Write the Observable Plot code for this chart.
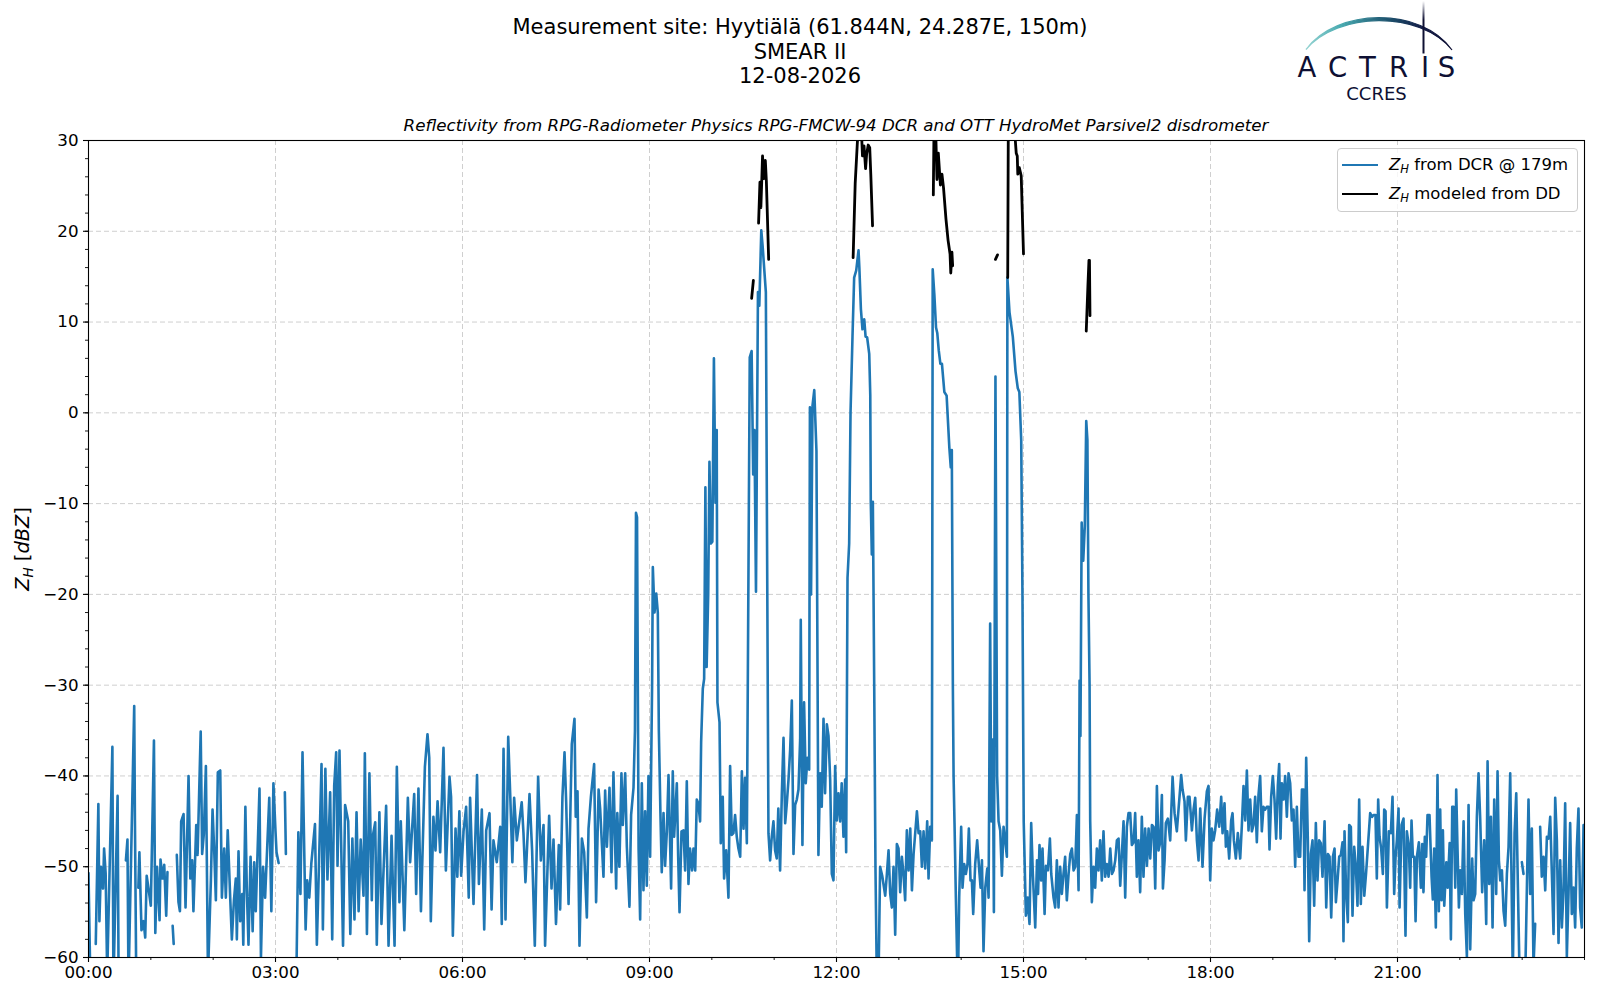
<!DOCTYPE html>
<html><head><meta charset="utf-8">
<script src="https://cdn.jsdelivr.net/npm/d3@7"></script>
<script src="https://cdn.jsdelivr.net/npm/@observablehq/plot@0.6"></script>
<style>
body{margin:0;background:#fff;font-family:'DejaVu Sans',sans-serif;color:#000;}
#wrap{position:relative;width:1600px;height:1000px;overflow:hidden;}
#chart{position:absolute;left:0;top:0;}
.tline{position:absolute;left:0;width:1600px;text-align:center;font-size:21px;line-height:24.5px;height:24.5px;white-space:nowrap;}
.subtitle{position:absolute;left:88px;width:1496px;top:115px;text-align:center;font-size:16.7px;font-style:italic;line-height:20px;}
.ylabel{position:absolute;left:23px;top:549px;transform:translate(-50%,-50%) rotate(-90deg);font-size:19.4px;white-space:nowrap;line-height:24px;}
sub{font-size:0.7em;vertical-align:-0.3em;line-height:0;}
.legend{position:absolute;left:1337px;top:148px;width:241px;height:64px;border:1px solid #cccccc;border-radius:4px;background:rgba(255,255,255,0.8);box-sizing:border-box;}
.lrow{position:absolute;left:0;height:24px;width:240px;}
.lrow .sw{position:absolute;left:4px;top:11px;width:36px;height:0;border-top:2.4px solid;}
.lrow .tx{position:absolute;left:51px;top:0;font-size:16.5px;line-height:24px;white-space:nowrap;}
#logo{position:absolute;left:1290px;top:0;}
</style></head>
<body><div id="wrap">
<div id="chart"></div>
<div class="tline" style="top:15.3px">Measurement site: Hyytiälä (61.844N, 24.287E, 150m)</div>
<div class="tline" style="top:39.8px">SMEAR II</div>
<div class="tline" style="top:64.3px">12-08-2026</div>
<div class="subtitle">Reflectivity from RPG-Radiometer Physics RPG-FMCW-94 DCR and OTT HydroMet Parsivel2 disdrometer</div>
<div class="ylabel"><i>Z</i><sub><i>H</i></sub> [<i>dBZ</i>]</div>
<div class="legend">
  <div class="lrow" style="top:4px"><div class="sw" style="border-color:#1f77b4"></div><div class="tx"><i>Z</i><sub><i>H</i></sub> from DCR @ 179m</div></div>
  <div class="lrow" style="top:33px"><div class="sw" style="border-color:#000"></div><div class="tx"><i>Z</i><sub><i>H</i></sub> modeled from DD</div></div>
</div>
<svg id="logo" width="180" height="110" viewBox="1290 0 180 110">
  <defs>
    <linearGradient id="arcg" gradientUnits="userSpaceOnUse" x1="1304" y1="0" x2="1454" y2="0">
      <stop offset="0" stop-color="#9ad6d4"/>
      <stop offset="0.25" stop-color="#48aab0"/>
      <stop offset="0.55" stop-color="#1e5570"/>
      <stop offset="0.8" stop-color="#121a45"/>
      <stop offset="1" stop-color="#0e1033"/>
    </linearGradient>
    <linearGradient id="vg" gradientUnits="userSpaceOnUse" x1="0" y1="1" x2="0" y2="54">
      <stop offset="0" stop-color="#0e1033" stop-opacity="0"/>
      <stop offset="0.35" stop-color="#0e1033" stop-opacity="1"/>
      <stop offset="1" stop-color="#0e1033" stop-opacity="1"/>
    </linearGradient>
  </defs>
  <path d="M1306,49.5 C1336,8 1421,6 1452,50 C1420,10 1337,12 1306,49.5 Z" fill="url(#arcg)" stroke="url(#arcg)" stroke-width="1.2"/>
  <line x1="1423.5" y1="1" x2="1423.5" y2="53.5" stroke="url(#vg)" stroke-width="2"/>
  <g fill="#0e1033" font-family="'DejaVu Sans',sans-serif" font-size="27.5" text-anchor="middle">
    <text x="1307" y="77">A</text><text x="1337.5" y="77">C</text><text x="1367.5" y="77">T</text>
    <text x="1398.5" y="77">R</text><text x="1425" y="77">I</text><text x="1446.5" y="77">S</text>
  </g>
  <text x="1376.5" y="99.5" fill="#0e1033" font-family="'DejaVu Sans',sans-serif" font-size="18" text-anchor="middle">CCRES</text>
</svg>
</div>
<script>
// ---- data: time in minutes after 00:00, value in dBZ (null = missing) ----
const dcr00 = [[0,-50.7],[2,-64],[5,null],[7,-58.5],[9.5,-43.1],[10.5,-56],[12,-50],[14,-52.4],[15,-48],[16.5,-50.7],[18,-62],[23,-36.8],[24,-63],[28,-42.2],[29,-63],[33,null],[36,-49.3],[37.5,-47],[38.5,-63],[44,-32.3],[44.7,-45],[46,-63],[47,null],[48,-52.3],[49,-48.4],[51,-57],[53,-56],[54.6,-57.8],[56,-51],[58,-52.6],[60,-54.3],[63,-36.1],[64.3,-57.3],[66,-50],[68.4,-55.9],[69.3,-49.2],[71.3,-51.3],[72.9,-49.8],[74.8,-55.4],[76,-50.6],[78,null],[81,-56.5],[82,-58.5],[83,null],[85,-48.7],[86.6,-53.9],[88,-54.9],[89.2,-45],[91.5,-44.2],[93.4,-54.5],[96.3,-40],[98,-51.3],[99.8,-49.3],[101,-54.9],[103.7,-45.4],[105,-48.7],[108,-35.1],[109.4,-48.6],[111,-46.4],[113,-38.9],[115,-62],[117.8,-51.5],[119.4,-43.7],[121,-48.2],[122.6,-53.7],[124.5,-39.6],[126.8,-39.4],[128.4,-53.4],[130.6,-48],[132.2,-53.4],[134,-46],[136.4,-53.4],[138,-58],[140,-53.7],[141.8,-51.3],[142.8,-58],[144.4,-48.3],[146,-56],[148,-53],[149,-58.6],[151,-43.4],[152.4,-52.6],[154,-58.6],[156,-48.9],[158,-57.1],[159.5,-49.5],[161,-54.9],[164.6,-41.4],[166,-60],[168,-50],[170,-53.4],[174,-42.4],[176,-54.9],[178,-40.8]];
const dcr03 = [[180,-46.1],[181,-48.4],[183,-49.6],[185,null],[189,-41.8],[190,-48.6],[192,null],[200,-63],[202,-46.2],[204,-53],[206,-37.4],[209,-56.9],[210.5,-51.5],[212.5,-53.4],[214.5,-49.6],[218,-45.3],[219.8,-58.6],[221.8,-50],[224.3,-38.7],[225.6,-56.9],[228,-39.2],[230,-51.4],[232.6,-41.8],[234.6,-58],[236.5,-41.1],[238.4,-37.4],[239.7,-49.9],[241.6,-37.2],[245,-58.7],[247,-43.2],[250,-45],[252,-57.4],[254,-46.9],[256,-55.8],[258,-44],[260,-54.9],[262,-47],[264.7,-53.2],[266,-37.5],[268,-57.4],[270.4,-39.7],[272.7,-53.7],[274,-46.4],[276,-45.1],[277.5,-58.6],[280,-44],[282,-56.3],[284,-50.4],[286.5,-43.3],[288.8,-58.7],[291.7,-46.6],[294.6,-58.7],[296.8,-39],[299.3,-53.9],[300.6,-45],[304,-57],[307.4,-42.4],[309.6,-49.5],[313.5,-42],[315.4,-53],[317.6,-41.4],[320,-54.9],[323.8,-39],[326.3,-35.4],[328,-38],[329.5,-56],[332,-44.5],[334,-48.2],[336,-42.8],[338.5,-48.4],[341.7,-36.9],[344,-50.4],[347.5,-40.1],[349,-42.3],[350.7,-57.6],[353.3,-45.8],[355,-51.1],[357,-43.9],[358.7,-51]];
const dcr06 = [[361,-46.1],[363.5,-43.4],[366,-53.4],[367.3,-42.4],[370.6,-54.1],[374,-39.9],[375.8,-51.9],[378.6,-43.7],[380.9,-56.9],[382.8,-46],[386,-44.1],[388,-54.7],[389.8,-47.1],[393,-49.5],[396.3,-45.6],[397.8,-56.3],[399.5,-37],[401.4,-55.8],[404,-35.7],[406,-42.3],[408,-49.5],[409.7,-42.4],[412.3,-47.1],[414.8,-44.9],[417,-42.9],[418.7,-46.3],[420.6,-51.7],[424.5,-42],[427,-48.2],[429.6,-58.7],[432.8,-40.1],[435.4,-49.3],[438,-45.4],[439.5,-58.7],[443.4,-44.4],[445.7,-52.4],[447.6,-47],[450,-56.3],[452.7,-47.6],[454,-54.7],[456.2,-42.3],[458.2,-37.4],[459.8,-42.9],[462.1,-54.1],[464,-43],[465.2,-36.5],[467.8,-33.7],[469,-44.5],[470.7,-41.7],[472.6,-58.7],[474.9,-46.9],[477.1,-48.4],[479.7,-55.6],[481.3,-45.8],[483.6,-42.3],[486.7,-38.7],[488.6,-53.9],[491,-41.5],[492.5,-43.6],[495.7,-51.1],[497.3,-41.6],[499,-47.8],[501.5,-41.3],[503.4,-50.6],[505.3,-39.6],[507.9,-52.4],[509,-44.1],[511,-50],[513,-39.7],[514.3,-45.4],[516.6,-39.7],[518.2,-47.8],[520.7,-54.4],[522.3,-44.3],[524.6,-41.3],[526,-35],[527,-11],[528,-11.5],[529.5,-48],[531,-55.8],[532.6,-40.8],[534.2,-52.6],[535.8,-43.9],[537.4,-52.1],[539,-40]];
const dcr09 = [[540.6,-48.9],[542.5,-30],[543.2,-17],[544.8,-22],[546.5,-19.9],[548,-22],[549,-35],[550.5,-44],[551.8,-50.6],[553.5,-44.1],[555,-49.9],[556.7,-46.1],[558.3,-39.9],[559.9,-47.8],[560.8,-52.4],[562.4,-39.5],[563.7,-46.7],[566.3,-40.8],[567.6,-48.9],[568.9,-55],[570.8,-46.1],[572.7,-46],[574.3,-50.4],[575.9,-40.6],[577.5,-51.9],[579,-48],[581,-50.4],[582.3,-48],[584,-50.4],[585.5,-42.6],[587,-43],[588.7,-45],[589.7,-36.3],[591.3,-30.4],[592.6,-29.3],[593.8,-8.2],[595,-28],[596.5,-20],[597.7,-5.4],[599,-14.4],[600.5,-14.2],[602,6],[603.5,-9.9],[604.7,-1.9],[605.4,-31.9],[607.4,-34.1],[608.6,-47.4],[610.5,-42.3],[611.8,-51.3],[613.8,-48.2],[616,-53.4],[617.6,-38.9],[619.2,-46.5],[620.8,-46.3],[622.4,-44.3],[624,-46.7],[625.6,-48],[627.3,-48.9],[628.9,-39.5],[630.5,-45.8],[632,-40.2],[633.7,-47.4],[636.5,6.1],[638.3,6.8],[639.8,-6.8],[641,-1.9],[642.5,-19.7],[644.4,13.3],[645.7,11.8],[647.6,20.1],[649,18.2],[652,13.3],[654.5,-46.3],[656.1,-49.3],[657.7,-46.7],[659.3,-45],[660.9,-48.2],[662.5,-49.1],[664,-43.6],[665.7,-50.4],[667.4,-41.9],[669,-35.8],[670.6,-45.2],[672.2,-43],[673.8,-40.4],[675.4,-37.1],[677,-31.7],[678.6,-48.6],[680.2,-43.2],[681.8,-42.6],[683.4,-41.5],[685,-36],[685.6,-22.8],[687.2,-47.6],[688.8,-31.9],[690.4,-40.8],[692,-38],[693.7,-39.3],[694.4,0.6],[695.5,-20],[696.9,0.8],[698.6,2.5],[700.7,-4.2],[702.6,-48.7],[704.2,-39.7],[705.8,-43.4],[707.5,-33.7],[709,-41.9],[710.7,-34.3],[712.3,-35.6],[713.9,-40.4],[715.5,-50.8],[717.1,-51.5],[718.7,-38.9]];
const dcr12 = [[720.3,-44.9],[721.9,-41.9],[723.5,-45],[725,-40.8],[726.7,-46.7],[728.3,-40.4],[729.3,-48.4],[730.6,-18.2],[732.2,-14.4],[733.5,0],[735.4,8.4],[737,14.9],[739,15.7],[741.2,17.9],[742,16],[743.5,11.4],[745,9.2],[746.7,10.3],[748,8.4],[749.5,8.3],[751.5,6.5],[752.5,2],[753,-9.8],[754,-15.6],[755,-9.8],[756.3,-30],[757.5,-50],[759,-64],[760.5,-62],[762,-50],[764,-51],[766.9,-53.2],[768.5,-50.8],[770.1,-48.2],[771.7,-53],[773.3,-54.5],[774.9,-50],[776.5,-57.5],[778.1,-47.5],[779.7,-48],[781.3,-52.8],[782.9,-48.9],[784.5,-50.8],[786.1,-53.7],[787.7,-46],[789.4,-50.4],[791,-45.8],[792.6,-52.6],[794.2,-48.6],[797.4,-43.9],[799,-46.3],[800.6,-46.1],[802.2,-50],[803.8,-46.1],[805.4,-50.2],[807.3,-45],[808.6,-51.3],[810.2,-45.6],[811.8,-47.1],[812.6,15.8],[814.2,13],[815.8,9.4],[817,8.8],[818.4,6.9],[820,5.4],[821.5,5.4],[823.8,2.3],[826,1.9],[828.6,-3.8],[830,-6],[831,-4.1],[832,-30],[832.7,-40],[833.6,-45.2],[834.9,-53.4],[836.8,-64],[838.1,-53.4],[840,-45.6],[841.3,-52.3],[842.9,-49.7],[844.5,-50.8],[846.1,-49.7],[847.4,-45.8],[849,-51.5],[850.3,-51.5],[851.6,-55.2],[853.5,-49.7],[855.4,-47.1],[857.4,-50.4],[858.7,-52.3],[860,-49.3],[861.5,-59.3],[863.2,-52.3],[865.1,-50.2],[866.4,-53.4],[867.9,-23.2],[869,-45],[870.5,-36],[871.5,-55],[873,4],[874.6,-40],[876,-45],[877.6,-46],[879.2,-51],[880.8,-45.6],[882.4,-47.1],[884,-48.9],[884.5,14.9],[886.5,11.1],[889.7,8.4],[892.3,4.6],[894.5,2.7],[896,2.3],[897.8,-3],[899,-20]];
const dcr15 = [[900.2,-45],[902.3,-55.4],[904,-53.4],[905.8,-56.3],[907.4,-45.2],[909,-50.8],[911.3,-56.7],[913,-49.3],[914,-53],[915.4,-47.6],[917,-51.5],[918.3,-48],[920.3,-55.2],[921.6,-49.9],[923.5,-50.4],[925.4,-46.9],[926.7,-50.8],[928.9,-53.4],[930.5,-54.5],[932.1,-49.3],[933.7,-54.5],[935.3,-50],[936.9,-53],[938.5,-50.8],[940.1,-48.9],[941.7,-53.7],[943.4,-50.8],[945,-48.6],[946.6,-48],[948.2,-50.4],[949.8,-50],[951.4,-44.3],[953,-52.6],[954,-29.5],[954.8,-35.6],[956,-12.1],[957.5,-16.3],[959,-12.5],[960.4,-0.9],[961.5,-3],[962.5,-20],[963.6,-30],[964.2,-45],[965.8,-53.9],[967.4,-50],[969,-52.3],[970.6,-48],[972.2,-50.4],[973.8,-47.1],[975.4,-51.5],[977,-46.1],[978.6,-51.1],[980.2,-49.7],[981.9,-51.1],[983.5,-48],[985.1,-50.8],[986.7,-50.4],[988.3,-49.3],[989.9,-47.1],[991.5,-46.9],[993.1,-52.1],[994.7,-48.6],[996.3,-45],[997.9,-53.4],[999.5,-45.6],[1001.1,-44.1],[1002.7,-44.1],[1004.3,-47.6],[1006,-47.3],[1007.5,-44.1],[1009.1,-51.1],[1010.7,-47.1],[1012.3,-52.8],[1013.9,-44.5],[1015.5,-51.1],[1017.1,-45.8],[1018.8,-49.9],[1020.4,-45.8],[1022,-49.1],[1023.6,-45.4],[1025.2,-45.6],[1026.8,-52.4],[1028.4,-41.1],[1030,-48.2],[1031.6,-47.3],[1033.2,-42.1],[1034.2,-52.4],[1035.8,-49.3],[1037,-45.2],[1039,-44.7],[1041.2,-47.1],[1043.5,-40.1],[1045.4,-44.1],[1047.6,-46.1],[1049.2,-43.7],[1051.8,-39.9],[1053.1,-41.5],[1055,-42.8],[1056.3,-47.1],[1058.2,-42.3],[1059.8,-42.3],[1062.1,-46],[1063.7,-43.7],[1065.3,-42.4],[1066.9,-47.1],[1068.5,-49.3],[1070.1,-43.6],[1072.3,-50],[1074.3,-44.7],[1076.5,-41.7],[1078.1,-41.1],[1079.7,-51.5]];
const dcr18 = [[1081.3,-45.8],[1082.9,-47.1],[1084.5,-46],[1086.4,-43.7],[1088.4,-45.6],[1090.3,-42.3],[1091.6,-46.3],[1093.5,-43],[1094.8,-47.8],[1096.1,-46.1],[1098,-49.1],[1099.9,-44.9],[1101.2,-44.1],[1102.5,-47.1],[1104.4,-49.1],[1106.3,-46.3],[1108.6,-49.1],[1110.2,-45.4],[1111.8,-41.1],[1113.4,-44.9],[1115,-39.4],[1116.6,-46],[1118.2,-42.6],[1119.8,-46.1],[1121.4,-45.4],[1123,-42.3],[1124.6,-47.3],[1126.2,-42.1],[1127.8,-40],[1129.4,-46.1],[1131,-43.4],[1132.6,-43.7],[1134.2,-43.4],[1135.8,-43.4],[1136.8,-48.1],[1138.4,-42.3],[1140,-40],[1141.6,-42.6],[1143.2,-46.9],[1144.8,-41.1],[1146.1,-38.7],[1147.4,-46.9],[1148.7,-40.8],[1150.3,-42.6],[1151.9,-40],[1153.5,-44.5],[1155.1,-39.7],[1156.7,-40.8],[1158.3,-44.9],[1159.9,-43.7],[1161.5,-50],[1163.1,-43.4],[1164.7,-48.9],[1166.3,-48.9],[1168,-41.5],[1169.5,-41.5],[1170.5,-52.6],[1172.1,-38],[1173.7,-47.1],[1175,-58.2],[1176.6,-48.6],[1178.2,-47.1],[1179.8,-54.3],[1181.4,-45.2],[1183,-51.5],[1184.6,-47.1],[1186.2,-47.4],[1187.8,-51.1],[1189.8,-45],[1191.4,-54.5],[1193,-48.6],[1194.6,-48.9],[1196.2,-55.6],[1197.8,-48.9],[1199.4,-48],[1200.7,-53.9],[1202.3,-51.5],[1203.9,-48.9],[1205.5,-48.7],[1207.1,-47.3],[1208,-58.2],[1209,-46.1],[1210.6,-53],[1212.2,-56.1],[1213.5,-45.4],[1215.1,-45.6],[1216.7,-55.4],[1218.3,-47.8],[1219.9,-50],[1221.5,-54.3],[1223.1,-42.6],[1224.7,-54.1],[1226.3,-47.8],[1228,-53.2],[1229.7,-50.8],[1231.8,-47.3],[1233.7,-44.1],[1235.6,-44.5],[1236.9,-44.3],[1238.8,-44.3],[1240.1,-51.3],[1241.4,-42.6],[1242.7,-46.7],[1244.3,-48],[1245.9,-50.8],[1247.2,-43.7],[1248.5,-43.9],[1249.8,-54.5],[1251.7,-46.1],[1253.6,-46.3],[1255.2,-42.3],[1256.8,-53],[1258.1,-49],[1259.4,-47.1]];
const dcr21 = [[1261,-43.6],[1262,-54.5],[1263.9,-45.4],[1265.8,-44.7],[1267.7,-57.6],[1269,-46.1],[1270.9,-47.7],[1272.2,-52.3],[1273.5,-44.9],[1274.8,-48.9],[1276.1,-48.9],[1277.4,-56],[1278.7,-48.9],[1280.6,-47.3],[1282.5,-52.3],[1283.8,-47.5],[1285,-52.8],[1286.3,-46.7],[1287.6,-48.9],[1288.9,-44.3],[1290.8,-44.3],[1292.8,-51.1],[1294,-53.6],[1295.3,-48],[1296.9,-56.7],[1298.5,-39.9],[1299.8,-54.9],[1301.1,-43.7],[1302.4,-53.7],[1303.7,-46],[1305,-54.3],[1307,-49.5],[1308.3,-52.3],[1310.2,-47.4],[1311.4,-58],[1312.7,-43.4],[1314,-43.4],[1315.6,-52.3],[1316.5,-41.5],[1317.8,-48.2],[1319.1,-54.5],[1320.4,-50.4],[1322,-53],[1323.6,-45],[1325.2,-55.2],[1326.8,-59.9],[1328.4,-43.2],[1330,-59.1],[1331.9,-49.1],[1333.2,-53.7],[1334.8,-53],[1336.4,-44.5],[1338,-39.7],[1339.6,-44.7],[1341.5,-52.8],[1343.4,-47.1],[1345.4,-56.3],[1346.7,-38.4],[1348.3,-51.9],[1349.9,-44.5],[1351.5,-56.7],[1353.1,-42.6],[1355,-53],[1356.3,-39.5],[1357.6,-49.3],[1358.9,-51.5],[1360.5,-50.4],[1362.1,-54.9],[1363.7,-56.5],[1365.3,-50.8],[1366.9,-47.8],[1368.5,-39.7],[1370.1,-54.5],[1371,-62],[1372.7,-46.3],[1374.3,-41.9],[1375.9,-52.3],[1377.5,-62],[1378.5,null],[1379.7,-49.5],[1381.3,-50.8],[1382,null],[1383,-62],[1386.1,-42.6],[1387.7,-53],[1389.3,-45.8],[1390.9,-61],[1392.5,-56.3],[1394,null],[1397.3,-45.6],[1398.9,-51.1],[1400.6,-48.9],[1402.2,-52.6],[1403.8,-46.7],[1405.4,-46.9],[1407,-44.5],[1408.6,-50.8],[1410.2,-57.4],[1411.8,-42.4],[1413.4,-47.1],[1415,-58.4],[1416.6,-49.3],[1418.2,-56.7],[1419.8,-52.6],[1421.4,-43],[1423,-59.9],[1424.6,-53],[1426.2,-45.2],[1427.8,-55.2],[1429.4,-52.3],[1431,-56.7],[1432.6,-48],[1434.2,-43.6],[1435.8,-54.5],[1437.4,-56.7],[1439.1,-45.4]];

// Z_H modeled from disdrometer (DD) events
const dd1 = [[638.3,12.6],[640,14.6]];
const dd2 = [[645,20.9],[646.3,25.4],[647.2,22.6],[648,25.4],[648.8,28.3],[650,25.8],[651.5,27.8],[652.5,25.5],[654.7,16.9]];
const dd3 = [[736,17.1],[738,25.3],[740,29.6],[741,31.5],[742.5,33],[744,31],[745,28.3],[746.5,29.4],[748,26.9],[749,28.5],[750.5,29.5],[752,29.2],[753,26.3],[754.7,20.6]];
const dd4 = [[813.2,24],[814,33],[815.5,31],[816.7,25.7],[818,28.6],[820,25.1],[821.5,26.3],[823,24.8],[825.4,21.3],[827.4,19],[829.3,17.5],[830,15.4],[831.1,17.7],[831.8,16.2]];
const dd5 = [[873,16.9],[875,17.4]];
const dd6 = [[884.8,14.9],[885.5,35],[890.5,35],[891.5,31],[893,28.6],[894,28.3],[894.5,26.3],[896,27],[897.8,26.1],[900,17.5]];
const dd7 = [[960.4,9],[962,14],[963,16.8],[963.5,16.8],[964,10.7]];

// axes
const xTickMinutes = [0,180,360,540,720,900,1080,1260];
const xTickLabels = ["00:00","03:00","06:00","09:00","12:00","15:00","18:00","21:00"];
const xMinorMinutes = d3.range(0, 1441, 60);
const yTicks = [-60,-50,-40,-30,-20,-10,0,10,20,30];
const yMinor = d3.range(-60, 31, 2);

const dcr = [...dcr00, ...dcr03, ...dcr06, ...dcr09, ...dcr12, ...dcr15, ...dcr18, ...dcr21];
const ddEvents = [dd1, dd2, dd3, dd4, dd5, dd6, dd7];
const dd = ddEvents.flatMap((ev, k) => ev.map(p => ({t: p[0], z: p[1], ev: k})));

const labelByMin = new Map(xTickMinutes.map((m, i) => [m, xTickLabels[i]]));
const fmtY = d => d < 0 ? "\u2212" + Math.abs(d) : String(d);

const chart = Plot.plot({
  width: 1600, height: 1000,
  marginLeft: 88, marginRight: 16, marginTop: 140, marginBottom: 43,
  style: {fontFamily: "'DejaVu Sans', sans-serif", fontSize: "16.7px", color: "#000", background: "transparent"},
  x: {type: "linear", domain: [0, 1440]},
  y: {domain: [-60, 30]},
  marks: [
    Plot.gridX(xTickMinutes, {stroke: "#cfcfcf", strokeOpacity: 1, strokeWidth: 1, strokeDasharray: "5,3"}),
    Plot.gridY(yTicks, {stroke: "#cfcfcf", strokeOpacity: 1, strokeWidth: 1, strokeDasharray: "5,3"}),
    Plot.line(dcr, {x: d => d[0], y: d => d[1], stroke: "#1f77b4", strokeWidth: 2.6, clip: true}),
    Plot.line(dd, {x: "t", y: "z", z: "ev", stroke: "#000", strokeWidth: 2.8, clip: true}),
    Plot.frame({stroke: "#000", strokeWidth: 1.1}),
    Plot.axisX(xMinorMinutes, {tickSize: 3, tickFormat: () => "", strokeWidth: 0.9, label: null}),
    Plot.axisX(xTickMinutes, {tickSize: 5, tickPadding: 4, tickFormat: d => labelByMin.get(d), strokeWidth: 1.1, label: null}),
    Plot.axisY(yMinor, {tickSize: 3, tickFormat: () => "", strokeWidth: 0.9, label: null}),
    Plot.axisY(yTicks, {tickSize: 5, tickPadding: 5, tickFormat: fmtY, strokeWidth: 1.1, label: null})
  ]
});
document.getElementById("chart").appendChild(chart);
</script>
</body></html>
